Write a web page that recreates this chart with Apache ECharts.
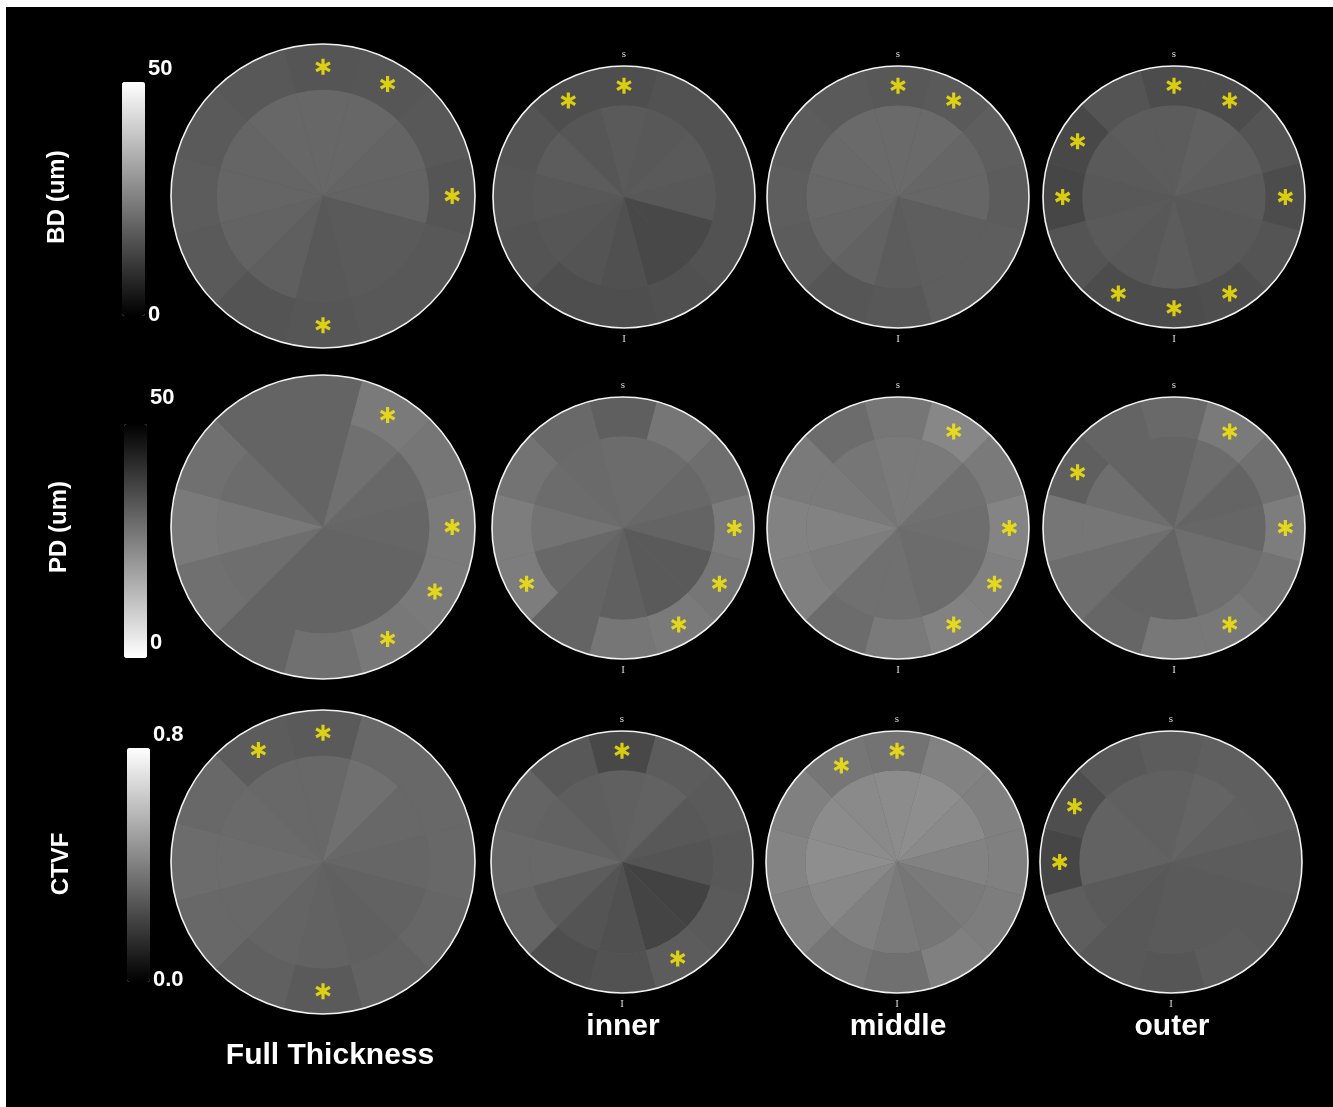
<!DOCTYPE html>
<html>
<head>
<meta charset="utf-8">
<script src="https://cdn.jsdelivr.net/npm/echarts@6/dist/echarts.min.js"></script>
<style>
  html, body { margin: 0; padding: 0; background: #fff; }
  #chart { width: 1333px; height: 1107px; }
</style>
</head>
<body>
<div id="chart"></div>
<script>
// sectors as clock positions, 12 o'clock (superior) first, going clockwise
const SECTORS = ["12", "1", "2", "3", "4", "5", "6", "7", "8", "9", "10", "11"];
const SECTOR_LABELS = ["s", "", "", "", "", "", "I", "", "", "", "", ""];
const LAYERS = ["Full Thickness", "inner", "middle", "outer"];
const METRICS = ["BD (um)", "PD (um)", "CTVF"];

const BD_RANGE = [0, 50];
const PD_RANGE = [0, 50];
const CTVF_RANGE = [0, 0.8];
const BD_TICKS = ["50", "0"];
const PD_TICKS = ["50", "0"];
const CTVF_TICKS = ["0.8", "0.0"];

// BD (um): inner disc and outer ring per layer
const BD_FULL_IN = [20.2, 20.2, 19.6, 19.4, 17.6, 17.6, 17.3, 18.6, 19.4, 19.8, 19.8, 20.2];
const BD_FULL_OUT = [16.7, 16.9, 17.3, 16.7, 17.3, 17.3, 16.9, 16.5, 17.6, 18.0, 17.6, 17.3];
const BD_INNER_IN = [17.6, 17.3, 17.6, 17.3, 14.1, 14.1, 15.7, 16.5, 16.9, 17.3, 18.0, 16.9];
const BD_INNER_OUT = [15.3, 16.1, 16.1, 16.1, 16.1, 15.7, 15.3, 15.3, 16.5, 16.9, 16.5, 15.3];
const BD_MIDDLE_IN = [20.8, 20.8, 20.0, 20.0, 18.4, 18.4, 18.0, 19.2, 20.0, 20.4, 20.6, 20.8];
const BD_MIDDLE_OUT = [17.3, 17.6, 18.4, 18.0, 18.4, 18.4, 17.3, 16.9, 18.0, 18.4, 18.0, 17.6];
const BD_OUTER_IN = [18.0, 18.8, 18.4, 17.6, 17.3, 17.3, 18.0, 17.3, 17.6, 17.3, 17.6, 18.0];
const BD_OUTER_OUT = [14.9, 14.9, 16.5, 14.9, 16.5, 15.3, 14.9, 14.9, 16.5, 13.7, 14.1, 16.5];

// PD (um)
const PD_FULL_IN = [30.4, 28.0, 29.6, 30.0, 30.4, 30.4, 30.4, 30.4, 28.4, 26.5, 28.8, 30.4];
const PD_FULL_OUT = [30.4, 26.1, 26.9, 26.1, 26.1, 26.5, 28.0, 30.4, 28.0, 26.1, 28.0, 30.4];
const PD_INNER_IN = [28.8, 28.8, 29.6, 30.4, 32.4, 32.4, 31.2, 30.4, 29.6, 27.5, 28.8, 29.2];
const PD_INNER_OUT = [31.4, 26.9, 28.4, 26.1, 26.9, 26.1, 26.9, 30.4, 25.5, 25.5, 27.5, 29.4];
const PD_MIDDLE_IN = [26.1, 26.1, 28.0, 28.4, 28.8, 28.8, 28.0, 28.0, 25.5, 24.5, 26.1, 26.9];
const PD_MIDDLE_OUT = [26.9, 23.5, 26.1, 24.1, 24.9, 24.5, 26.1, 28.8, 24.9, 24.5, 26.1, 28.8];
const PD_OUTER_IN = [30.4, 28.8, 30.4, 30.0, 28.4, 28.4, 30.4, 30.4, 28.4, 26.9, 28.4, 30.4];
const PD_OUTER_OUT = [29.4, 26.1, 28.0, 25.5, 27.5, 26.5, 26.5, 30.0, 28.4, 26.9, 31.4, 30.4];

// CTVF
const CTVF_FULL_IN = [0.326, 0.351, 0.326, 0.320, 0.307, 0.301, 0.307, 0.314, 0.326, 0.339, 0.333, 0.326];
const CTVF_FULL_OUT = [0.282, 0.326, 0.326, 0.326, 0.320, 0.307, 0.282, 0.301, 0.326, 0.339, 0.326, 0.289];
const CTVF_INNER_IN = [0.301, 0.307, 0.276, 0.264, 0.207, 0.213, 0.251, 0.264, 0.289, 0.326, 0.307, 0.295];
const CTVF_INNER_OUT = [0.226, 0.289, 0.282, 0.276, 0.282, 0.289, 0.257, 0.245, 0.314, 0.326, 0.314, 0.276];
const CTVF_MIDDLE_IN = [0.439, 0.445, 0.433, 0.408, 0.383, 0.370, 0.383, 0.402, 0.427, 0.445, 0.439, 0.433];
const CTVF_MIDDLE_OUT = [0.361, 0.408, 0.402, 0.402, 0.392, 0.402, 0.351, 0.370, 0.402, 0.414, 0.402, 0.370];
const CTVF_OUTER_IN = [0.301, 0.314, 0.301, 0.289, 0.282, 0.282, 0.282, 0.276, 0.282, 0.307, 0.307, 0.301];
const CTVF_OUTER_OUT = [0.289, 0.298, 0.298, 0.289, 0.282, 0.289, 0.270, 0.276, 0.295, 0.220, 0.245, 0.276];

// sectors marked with * (significant)
const BD_STARS = [[0, 1, 3, 6], [0, 11], [0, 1], [0, 1, 3, 5, 6, 7, 9, 10]];
const PD_STARS = [[1, 3, 4, 5], [3, 4, 5, 8], [1, 3, 4, 5], [1, 3, 5, 10]];
const CTVF_STARS = [[0, 6, 11], [0, 5], [0, 11], [9, 10]];

// layout
const COL_X = [[323, 624, 898, 1174], [323, 623, 898, 1174], [323, 622, 897, 1171]];
const ROW_Y = [[196, 197, 197, 197], [527, 528, 528, 528], [862, 862, 862, 862]];
const RADIUS = [152, 131, 131, 131];
const RING_SPLIT = 0.7;
const STAR_R = 0.85;
const STAR_PATH =
  "path://M-2,-10L2,-10L2,10L-2,10Z" +
  "M7.66,-6.73L9.66,-3.27L-7.66,6.73L-9.66,3.27Z" +
  "M-9.66,-3.27L-7.66,-6.73L9.66,3.27L7.66,6.73Z";

const rows = [
  {
    range: BD_RANGE, ticks: BD_TICKS, colors: ["#000000", "#ffffff"], under: "#595959",
    rings: [[BD_FULL_IN, BD_FULL_OUT], [BD_INNER_IN, BD_INNER_OUT], [BD_MIDDLE_IN, BD_MIDDLE_OUT], [BD_OUTER_IN, BD_OUTER_OUT]],
    stars: BD_STARS,
    bar: { left: 122, top: 82 }, tickX: 148, tickY: [69, 315], labelPos: [57, 197],
  },
  {
    range: PD_RANGE, ticks: PD_TICKS, colors: ["#ffffff", "#000000"], under: "#6c6c6c",
    rings: [[PD_FULL_IN, PD_FULL_OUT], [PD_INNER_IN, PD_INNER_OUT], [PD_MIDDLE_IN, PD_MIDDLE_OUT], [PD_OUTER_IN, PD_OUTER_OUT]],
    stars: PD_STARS,
    bar: { left: 124, top: 424 }, tickX: 150, tickY: [398, 643], labelPos: [59, 527],
  },
  {
    range: CTVF_RANGE, ticks: CTVF_TICKS, colors: ["#000000", "#ffffff"], under: "#626262",
    rings: [[CTVF_FULL_IN, CTVF_FULL_OUT], [CTVF_INNER_IN, CTVF_INNER_OUT], [CTVF_MIDDLE_IN, CTVF_MIDDLE_OUT], [CTVF_OUTER_IN, CTVF_OUTER_OUT]],
    stars: CTVF_STARS,
    bar: { left: 127, top: 748 }, tickX: 153, tickY: [735, 980], labelPos: [61, 864],
  },
];

const polar = [];
const angleAxis = [];
const radiusAxis = [];
const series = [];
const visualMap = [];
const graphic = [
  { type: "rect", shape: { x: 0, y: 0, width: 1333, height: 7 }, style: { fill: "#fff" } },
  { type: "rect", shape: { x: 0, y: 0, width: 6, height: 1107 }, style: { fill: "#fff" } },
];

function textEl(x, y, text, size, align, rotation) {
  return {
    type: "text", x: x, y: y, rotation: rotation || 0, z: 20,
    style: {
      text: text, fill: "#fff",
      font: "bold " + size + "px 'Liberation Sans', Arial, sans-serif",
      align: align, verticalAlign: "middle",
      textAlign: align, textVerticalAlign: "middle",
    },
  };
}

function ringSeries(p, values, length) {
  return {
    type: "bar",
    coordinateSystem: "polar",
    polarIndex: p,
    stack: "ring" + p,
    barCategoryGap: "0%",
    silent: true,
    data: values.map((v, k) => [length, k, v]),
  };
}

rows.forEach((row, r) => {
  const barSeries = [];
  row.rings.forEach((ring, c) => {
    const p = polar.length;
    polar.push({ center: [COL_X[r][c], ROW_Y[r][c]], radius: RADIUS[c] });
    angleAxis.push({
      type: "category",
      polarIndex: p,
      data: SECTORS,
      startAngle: 105,
      clockwise: true,
      boundaryGap: true,
      z: 10,
      axisLine: { show: true, lineStyle: { color: "#f2f2f2", width: 1.6 } },
      axisTick: { show: false },
      splitLine: { show: false },
      axisLabel: {
        show: c > 0,
        margin: 6,
        color: "#d8d8d8",
        fontFamily: "'Liberation Serif', 'DejaVu Serif', serif",
        fontSize: 11,
        formatter: (value, index) => SECTOR_LABELS[index],
      },
    });
    // a single filled disc under the sectors hides the anti-aliasing seams
    radiusAxis.push({
      type: "value",
      polarIndex: p,
      min: 0,
      max: 1,
      interval: 1,
      axisLine: { show: false },
      axisTick: { show: false },
      axisLabel: { show: false },
      splitLine: { show: false },
      splitArea: { show: true, areaStyle: { color: [row.under] } },
    });
    barSeries.push(series.length, series.length + 1);
    series.push(ringSeries(p, ring[0], RING_SPLIT));
    series.push(ringSeries(p, ring[1], 1 - RING_SPLIT));
    series.push({
      type: "scatter",
      coordinateSystem: "polar",
      polarIndex: p,
      symbol: STAR_PATH,
      symbolSize: 16,
      symbolKeepAspect: true,
      z: 5,
      silent: true,
      itemStyle: { color: "#ffee00" },
      data: row.stars[c].map((k) => [STAR_R, k]),
    });
  });

  visualMap.push({
    type: "continuous",
    min: row.range[0],
    max: row.range[1],
    dimension: 2,
    seriesIndex: barSeries,
    orient: "vertical",
    left: row.bar.left,
    top: row.bar.top,
    itemWidth: 23,
    itemHeight: 234,
    padding: 0,
    calculable: false,
    hoverLink: false,
    text: null,
    inRange: { color: row.colors },
  });

  graphic.push(textEl(row.tickX, row.tickY[0], row.ticks[0], 22, "left"));
  graphic.push(textEl(row.tickX, row.tickY[1], row.ticks[1], 22, "left"));
  graphic.push(textEl(row.labelPos[0], row.labelPos[1], METRICS[r], 24, "center", Math.PI / 2));
});

graphic.push(textEl(330, 1056, LAYERS[0], 30, "center"));
graphic.push(textEl(623, 1027, LAYERS[1], 30, "center"));
graphic.push(textEl(898, 1027, LAYERS[2], 30, "center"));
graphic.push(textEl(1172, 1027, LAYERS[3], 30, "center"));

const chart = echarts.init(document.getElementById("chart"));
chart.setOption({
  backgroundColor: "#000",
  animation: false,
  polar: polar,
  angleAxis: angleAxis,
  radiusAxis: radiusAxis,
  visualMap: visualMap,
  series: series,
  graphic: graphic,
});
</script>
</body>
</html>
